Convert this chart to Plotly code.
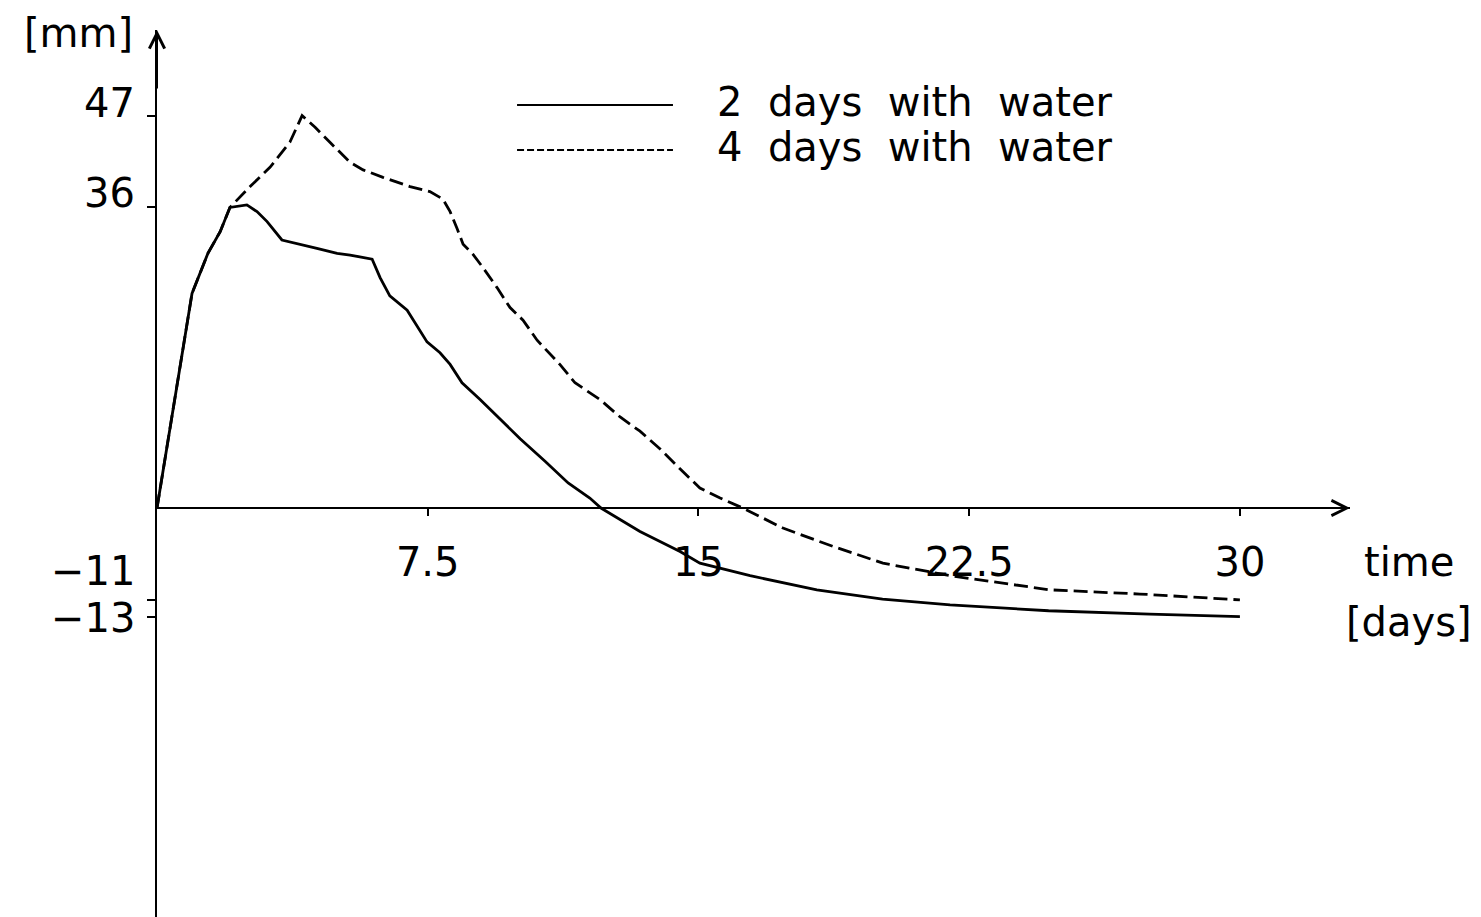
import plotly.graph_objects as go

# ---- data ----
t_2days = [0, 0.58, 0.97, 1.41, 1.75, 2.02, 2.49, 2.77, 3.05, 3.46, 3.88, 4.43, 4.99, 5.35,
           5.96, 6.18, 6.45, 6.93, 7.48, 7.84, 8.12, 8.45, 8.95, 9.50, 10.06, 10.75, 11.39,
           11.99, 12.3, 13.38, 14.49, 15.04, 16.43, 18.28, 20.1, 21.97, 24.7, 27.5, 30.0]
v_2days = [0, 15.4, 25.7, 30.5, 33.1, 36.0, 36.3, 35.5, 34.3, 32.1, 31.7, 31.1, 30.5, 30.3,
           29.8, 27.6, 25.4, 23.7, 19.9, 18.6, 17.2, 15.0, 13.0, 10.7, 8.3, 5.6, 3.0,
           1.2, 0, -2.8, -5.2, -6.6, -8.1, -9.8, -10.9, -11.6, -12.3, -12.7, -13.0]

t_4days = [0, 0.58, 0.97, 1.41, 1.75, 2.02, 2.58, 3.13, 3.68, 4.02, 4.38, 4.79, 5.35, 5.71,
           6.26, 7.01, 7.56, 7.92, 8.12, 8.31, 8.48, 8.75, 9.03, 9.42, 9.78, 10.14, 10.53,
           11.16, 11.58, 12.27, 12.83, 13.38, 13.93, 14.63, 15.04, 15.6, 16.23, 17.34, 18.73,
           20.11, 21.97, 24.74, 27.23, 30.0]
v_4days = [0, 15.4, 25.7, 30.5, 33.1, 36.0, 38.5, 40.8, 43.8, 47.0, 45.6, 43.8, 41.4, 40.5,
           39.6, 38.5, 37.9, 37.0, 35.5, 33.5, 31.6, 30.4, 28.8, 26.4, 24.0, 22.5, 20.1,
           17.2, 15.0, 13.0, 10.9, 9.2, 7.1, 4.1, 2.4, 1.2, 0, -2.4, -4.6,
           -6.6, -8.1, -9.8, -10.3, -11.0]

series_names = ["2 days with water", "4 days with water"]
x_ticks = [7.5, 15, 22.5, 30]
x_tick_labels = ["7.5", "15", "22.5", "30"]
y_ticks = [47, 36, -11, -13]
y_tick_labels = ["47", "36", "\u221211", "\u221213"]
y_label_shift = [13, 14, 29, -1]
x_title = ["time", "[days]"]
y_title = "[mm]"

X_MAX = 33.05
Y_MAX = 57.25
Y_MIN = -48.98

FONT = "DejaVu Sans"
FS = 40

fig = go.Figure()
fig.add_trace(go.Scatter(x=t_2days, y=v_2days, mode="lines", name=series_names[0],
                         line=dict(color="black", width=2.8), showlegend=False))
fig.add_trace(go.Scatter(x=t_4days, y=v_4days, mode="lines", name=series_names[1],
                         line=dict(color="black", width=2.8, dash="14px,6px"), showlegend=False))

annotations = []
# y tick labels
for v, lab, sh in zip(y_ticks, y_tick_labels, y_label_shift):
    annotations.append(dict(x=0, y=v, xref="x", yref="y", text=lab, showarrow=False,
                            xanchor="right", yanchor="middle", xshift=-20, yshift=sh,
                            font=dict(family=FONT, size=FS, color="black")))
# axis arrows
annotations.append(dict(x=X_MAX, y=0, xref="x", yref="y", ax=-60, ay=0, text="",
                        showarrow=True, arrowhead=5, arrowsize=1.5, arrowwidth=2,
                        arrowcolor="black", standoff=0))
annotations.append(dict(x=0, y=Y_MAX, xref="x", yref="y", ax=0, ay=60, text="",
                        showarrow=True, arrowhead=5, arrowsize=1.5, arrowwidth=2,
                        arrowcolor="black", standoff=0))
# axis titles
annotations.append(dict(x=1.0, y=0.4002, xref="paper", yref="paper", text=x_title[0],
                        showarrow=False, xanchor="left", yanchor="middle", xshift=12,
                        font=dict(family=FONT, size=FS, color="black")))
annotations.append(dict(x=1.0, y=0.3326, xref="paper", yref="paper", text=x_title[1],
                        showarrow=False, xanchor="left", yanchor="middle", xshift=-6,
                        font=dict(family=FONT, size=FS, color="black")))
annotations.append(dict(x=0, y=1.0, xref="paper", yref="paper", text=y_title,
                        showarrow=False, xanchor="right", yanchor="middle", xshift=-22,
                        yshift=-3, font=dict(family=FONT, size=FS, color="black")))
# legend text
leg_y = [0.9183, 0.8676]
for name, ly in zip(series_names, leg_y):
    annotations.append(dict(x=0.4678, y=ly, xref="paper", yref="paper",
                            text=name.replace(" ", "\u00a0\u00a0"), showarrow=False,
                            xanchor="left", yanchor="middle",
                            font=dict(family=FONT, size=FS, color="black")))

shapes = [
    dict(type="line", xref="paper", yref="paper", x0=0.3018, x1=0.4325, y0=0.9154, y1=0.9154,
         line=dict(color="black", width=2)),
    dict(type="line", xref="paper", yref="paper", x0=0.3018, x1=0.4325, y0=0.8647, y1=0.8647,
         line=dict(color="black", width=2, dash="7px,3px")),
]

fig.update_layout(
    width=1481, height=917,
    margin=dict(l=157, r=131, t=30, b=0),
    paper_bgcolor="white", plot_bgcolor="white",
    annotations=annotations, shapes=shapes,
    showlegend=False,
    xaxis=dict(range=[0, X_MAX], anchor="free", position=48.98 / 106.23,
               showline=True, linecolor="black", linewidth=2, showgrid=False, zeroline=False,
               tickvals=x_ticks, ticktext=x_tick_labels, ticks="outside", ticklen=7,
               tickwidth=2, tickcolor="black", ticklabelstandoff=12,
               tickfont=dict(family=FONT, size=FS, color="black")),
    yaxis=dict(range=[Y_MIN, Y_MAX], showline=True, linecolor="black", linewidth=2,
               showgrid=False, zeroline=False, tickvals=y_ticks, showticklabels=False,
               ticks="outside", ticklen=8, tickwidth=2, tickcolor="black"),
)

fig.write_html("out.html")
